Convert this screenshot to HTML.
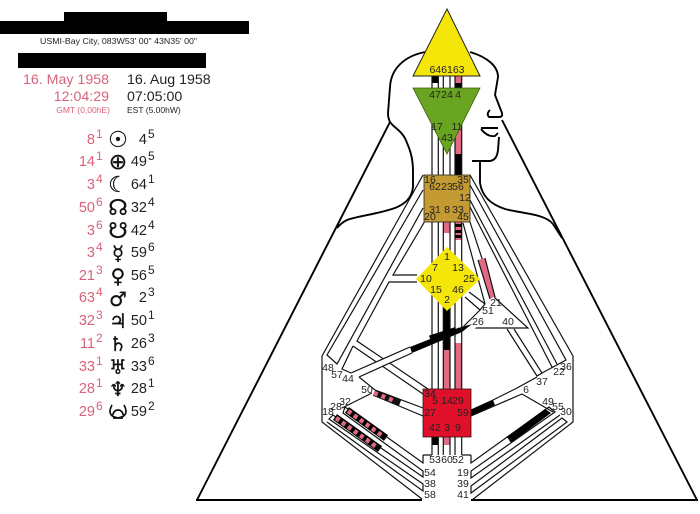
<!DOCTYPE html>
<html><head><meta charset="utf-8"><style>
html,body{margin:0;padding:0;background:#fff;width:700px;height:514px;overflow:hidden}
svg{display:block;filter:blur(.35px)}
text{font-family:"Liberation Sans",sans-serif}
.g text{font-size:10.5px;fill:#222;text-anchor:middle;dominant-baseline:central}
.l{fill:none;stroke:#111;stroke-width:1.2}
.b{fill:none;stroke:#000;stroke-width:1.9;stroke-linejoin:round}
.r{font-size:14.5px;fill:#d9637b;text-anchor:end}
.k{font-size:14.5px;fill:#222;text-anchor:end}
.rs{font-size:12px;fill:#d9637b}
.ks{font-size:12px;fill:#222}
.p{font-family:"DejaVu Sans",sans-serif;font-size:20px;fill:#111;stroke:#111;stroke-width:.3;text-anchor:middle}
.q{font-size:22px}
</style></head><body>
<svg width="700" height="514" viewBox="0 0 700 514" xmlns="http://www.w3.org/2000/svg">
<rect width="700" height="514" fill="#fff"/>
<!-- header -->
<rect x="64" y="12" width="103" height="9"/>
<rect x="0" y="21" width="249" height="13"/>
<rect x="18" y="53" width="188" height="15"/>
<text x="40" y="44" font-size="8.7" fill="#222" textLength="157" lengthAdjust="spacingAndGlyphs">USMI-Bay City, 083W53' 00"  43N35' 00"</text>
<text x="109" y="84" font-size="14.2" fill="#d9637b" text-anchor="end">16. May 1958</text>
<text x="127" y="84" font-size="14.2" fill="#222">16. Aug 1958</text>
<text x="109" y="101" font-size="14.2" fill="#d9637b" text-anchor="end">12:04:29</text>
<text x="127" y="101" font-size="14.2" fill="#222">07:05:00</text>
<text x="110" y="113" font-size="8.5" fill="#d9637b" text-anchor="end">GMT (0,00hE)</text>
<text x="127" y="113" font-size="8.5" fill="#222">EST (5.00hW)</text>
<!-- table -->
<g>
<text x="95" y="144" class="r">8</text><text x="96" y="138" class="rs">1</text><text x="147" y="144" class="k">4</text><text x="148" y="138" class="ks">5</text><text x="118" y="147" class="p q">☉</text>
<text x="95" y="166" class="r">14</text><text x="96" y="160" class="rs">1</text><text x="147" y="166" class="k">49</text><text x="148" y="160" class="ks">5</text><text x="118" y="169" class="p q">⊕</text>
<text x="95" y="189" class="r">3</text><text x="96" y="183" class="rs">4</text><text x="147" y="189" class="k">64</text><text x="148" y="183" class="ks">1</text><text x="118" y="192" class="p q">☾</text>
<text x="95" y="212" class="r">50</text><text x="96" y="206" class="rs">6</text><text x="147" y="212" class="k">32</text><text x="148" y="206" class="ks">4</text><text x="118" y="215" class="p q">☊</text>
<text x="95" y="235" class="r">3</text><text x="96" y="229" class="rs">6</text><text x="147" y="235" class="k">42</text><text x="148" y="229" class="ks">4</text><text x="118" y="238" class="p q">☋</text>
<text x="95" y="257" class="r">3</text><text x="96" y="251" class="rs">4</text><text x="147" y="257" class="k">59</text><text x="148" y="251" class="ks">6</text><text x="118" y="260" class="p">☿</text>
<text x="95" y="280" class="r">21</text><text x="96" y="274" class="rs">3</text><text x="147" y="280" class="k">56</text><text x="148" y="274" class="ks">5</text><text x="118" y="283" class="p">♀</text>
<text x="95" y="302" class="r">63</text><text x="96" y="296" class="rs">4</text><text x="147" y="302" class="k">2</text><text x="148" y="296" class="ks">3</text><text x="118" y="306" class="p">♂</text>
<text x="95" y="325" class="r">32</text><text x="96" y="319" class="rs">3</text><text x="147" y="325" class="k">50</text><text x="148" y="319" class="ks">1</text><text x="118" y="328" class="p">♃</text>
<text x="95" y="348" class="r">11</text><text x="96" y="342" class="rs">2</text><text x="147" y="348" class="k">26</text><text x="148" y="342" class="ks">3</text><text x="118" y="351" class="p">♄</text>
<text x="95" y="371" class="r">33</text><text x="96" y="365" class="rs">1</text><text x="147" y="371" class="k">33</text><text x="148" y="365" class="ks">6</text><text x="118" y="374" class="p">♅</text>
<text x="95" y="393" class="r">28</text><text x="96" y="387" class="rs">1</text><text x="147" y="393" class="k">28</text><text x="148" y="387" class="ks">1</text><text x="118" y="396" class="p">♆</text>
<text x="95" y="416" class="r">29</text><text x="96" y="410" class="rs">6</text><text x="147" y="416" class="k">59</text><text x="148" y="410" class="ks">2</text>
<path d="M112 405 Q106 416 118 418 Q130 416 124 405 M113 415 A5 5 0 0 1 123 415 M113 418 H123" fill="none" stroke="#111" stroke-width="1.7"/>
</g>
<!-- body outline -->
<path class="b" d="M197 500 L390 122 M502 120 L697 500 M196 500 H422 M471 500 H698"/>
<path class="b" d="M425 52 C405 56 391 68 390 87 L388 113 Q388 118 390 122 C394 128 403 131 407 143 C411 152 413 160 413 172 L413 187 C412 198 405 204 395 208 C378 214 358 216 347 220 Q341 223 337 228"/>
<path class="b" d="M470 52 C487 57 498 66 498 77 L495 95 L502 113 Q503 117 499 117 L489 117 Q486 114 490 110 M481 128 H498 M481 129 C485 134 490 137 495 136 L498 133 M499 137 L498 150 Q497 160 490 161 L472 161 M480 162 L480 183 C482 196 490 204 505 209 C525 214 545 214 553 224 L562 238" stroke-width="1.7"/>
<!-- outer frame and diagonal channels -->
<path class="l" d="M423 175 L322 356 V422 L422 499"/>
<path class="l" d="M470 175 L573 356 V422 L472 500"/>
<path class="l" d="M423 190 L327 355 L337 364 L423 208"/>
<path class="l" d="M425 221 L393 275 H417 M417 282 H389 L357 341 L428 389 M353 346 L423 394 M353 346 L342 369 L351 373"/>
<path class="l" d="M470 185 L566 360 L542 373 M470 200 L557 364 M470 207 L552 367"/>
<!-- ego -->
<path class="l" d="M463 223 L485 304 L480 310 L465 297 M469 292 L485 304 M495 298 L470 222 M495 298 L528 328 H462 L480 310"/>
<polygon points="478,260 485,258 495,296 490,299" fill="#e06a82"/>
<path class="l" d="M478 260 L490 299 M485 258 L495 297"/>
<polygon points="507,329 514,329 542,373 537,376" fill="#fff"/>
<path class="l" d="M507 329 L537 376 L542 373 L514 329"/>
<!-- 26-44 band -->
<polygon points="351,373 430,338 473,323 476,328 430,345 359,377" fill="#fff"/>
<polygon points="410,347 458,328 472,324 462,332 412,353" fill="#000"/>
<path class="l" d="M351 373 L410 347 M359 377 L412 353"/>
<!-- 50-27, 32 -->
<path class="l" d="M359 377 L375 390 L423 408 M373 395 L423 416 M342 408 L372 393"/>
<line x1="374" y1="393" x2="400" y2="403" stroke="#111" stroke-width="6"/>
<line x1="374" y1="393" x2="396" y2="401.500" stroke="#e06a82" stroke-width="4.500" stroke-dasharray="4 4"/>
<!-- spleen-root -->
<path class="l" d="M423 455 V463 L345 407 L343 413 L423 471 V477 L333 415 L329 419 L423 484 V491 L327 422"/>
<line x1="347" y1="410" x2="386" y2="438" stroke="#000" stroke-width="7"/>
<line x1="348" y1="411" x2="384" y2="437" stroke="#e06a82" stroke-width="4.500" stroke-dasharray="4 3.400"/>
<line x1="335" y1="417" x2="380" y2="449" stroke="#000" stroke-width="7"/>
<line x1="336" y1="418" x2="378" y2="448" stroke="#e06a82" stroke-width="4.500" stroke-dasharray="4 3.400"/>
<path class="l" d="M471 455 V463 L549 407 L555 412 L471 471 V478 L560 415 M471 486 V493 L567 422 L562 418 L471 486"/>
<polygon points="507,437 545,409 551,413 511,443" fill="#000"/>
<!-- 6-lines -->
<path class="l" d="M537 377 L517 388 L493 400 L471 410 M471 416 L522 394 L553 412"/>
<polygon points="493,400 471,410 471,416 495,405" fill="#000"/>
<!-- vertical channels -->
<g>
<rect x="455" y="76" width="6.500" height="7" fill="#e06a82"/>
<rect x="455" y="83" width="6.500" height="5"/>
<rect x="432" y="76" width="6" height="7"/>
<rect x="455" y="128" width="6.500" height="26" fill="#e06a82"/>
<rect x="455" y="154" width="6.500" height="21"/>
<rect x="443.500" y="222" width="6.500" height="11" fill="#e06a82"/>
<rect x="455" y="222" width="6.500" height="18" fill="#e06a82"/>
<rect x="455" y="224" width="6.500" height="3"/><rect x="455" y="230" width="6.500" height="3"/><rect x="455" y="235" width="6.500" height="3"/>
<rect x="443" y="300" width="7.500" height="50"/>
<rect x="443.500" y="350" width="6.500" height="39" fill="#e06a82"/>
<rect x="455" y="343" width="6.500" height="46" fill="#e06a82"/>
<rect x="432" y="437" width="6.500" height="8"/>
<rect x="443.500" y="437" width="6.500" height="8" fill="#e06a82"/>
<path class="l" d="M432 76 V88 M438.300 76 V88 M443.300 76 V88 M450 76 V88 M455 76 V88 M461.700 76 V88"/>
<path class="l" d="M432 120 V175 M438.300 120 V175 M443.300 120 V175 M450 120 V175 M455 120 V175 M461.700 120 V175"/>
<path class="l" d="M432 222 V389 M438.300 222 V389 M443.300 222 V389 M450 222 V389 M455 222 V389 M461.700 222 V389"/>
<path class="l" d="M432 437 V455 M438.300 437 V455 M443.300 437 V455 M450 437 V455 M455 437 V455 M461.700 437 V455"/>
<path class="l" d="M423 455 H432 M461.700 455 H471"/>
</g>
<line x1="430" y1="338.500" x2="456" y2="330" stroke="#000" stroke-width="6"/>
<!-- centers -->
<polygon points="447,9 480,76 413,76" fill="#f5e60a" stroke="#222" stroke-width="1"/>
<polygon points="413,88 480,88 447,154" fill="#6aa521" stroke="#3c5f10" stroke-width="0.800"/>
<rect x="424" y="175" width="46" height="47" fill="#c49a33" stroke="#222" stroke-width="0.800"/>
<polygon points="447,247 480,279 447,311 416,279" fill="#f5e60a"/>
<rect x="423" y="389" width="48" height="48" fill="#e0102a" stroke="#311" stroke-width="0.800"/>
<!-- labels -->
<g class="g">
<text x="447" y="70">646163</text>
<text x="435" y="95">47</text><text x="447" y="95">24</text><text x="458" y="95">4</text>
<text x="437" y="127">17</text><text x="457" y="127">11</text><text x="447" y="138">43</text>
<text x="430" y="180">16</text><text x="463" y="180">35</text>
<text x="435" y="187">62</text><text x="447" y="187">23</text><text x="458" y="187">56</text>
<text x="465" y="198">12</text>
<text x="435" y="210">31</text><text x="447" y="210">8</text><text x="458" y="210">33</text>
<text x="430" y="217">20</text><text x="463" y="217">45</text>
<text x="447" y="257">1</text><text x="435" y="268">7</text><text x="458" y="268">13</text>
<text x="426" y="279">10</text><text x="469" y="279">25</text>
<text x="436" y="290">15</text><text x="458" y="290">46</text><text x="447" y="300">2</text>
<text x="496" y="303">21</text><text x="488" y="311">51</text><text x="478" y="322">26</text><text x="508" y="322">40</text>
<text x="328" y="368">48</text><text x="337" y="375">57</text><text x="348" y="379">44</text><text x="367" y="390">50</text>
<text x="345" y="402">32</text><text x="336" y="407">28</text><text x="328" y="412">18</text>
<text x="430" y="394">34</text><text x="435" y="401">5</text><text x="447" y="401">14</text><text x="458" y="401">29</text>
<text x="430" y="413">27</text><text x="463" y="413">59</text>
<text x="435" y="428">42</text><text x="447" y="428">3</text><text x="458" y="428">9</text>
<text x="435" y="460">53</text><text x="447" y="460">60</text><text x="458" y="460">52</text>
<text x="430" y="473">54</text><text x="430" y="484">38</text><text x="430" y="495">58</text>
<text x="463" y="473">19</text><text x="463" y="484">39</text><text x="463" y="495">41</text>
<text x="542" y="382">37</text><text x="526" y="390">6</text><text x="559" y="372">22</text><text x="566" y="367">36</text>
<text x="548" y="402">49</text><text x="558" y="407">55</text><text x="566" y="412">30</text>
</g>
</svg>
</body></html>
